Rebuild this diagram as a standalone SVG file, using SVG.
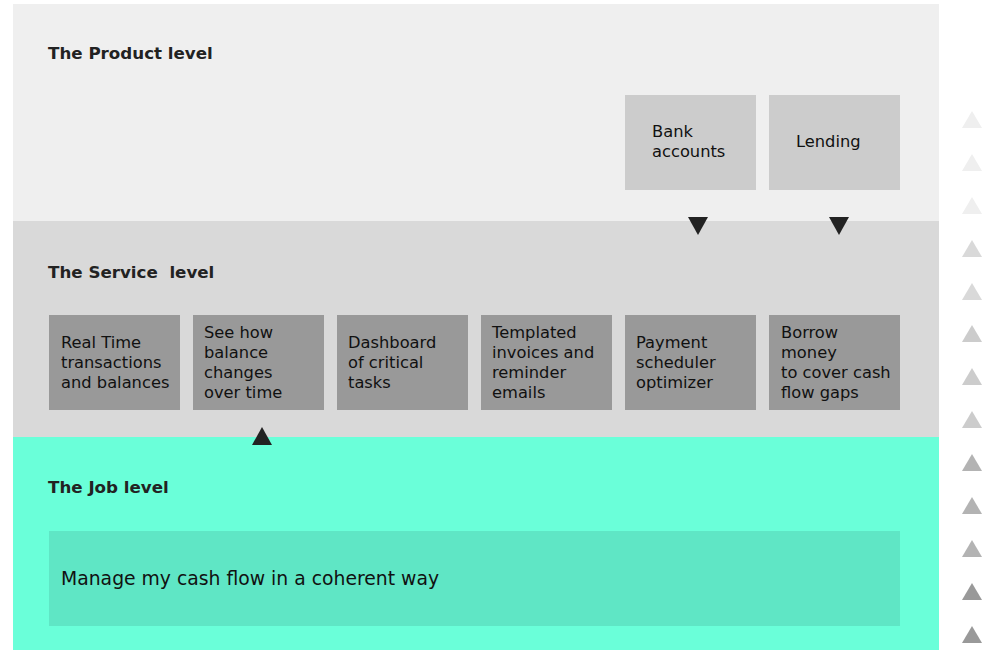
<svg xmlns="http://www.w3.org/2000/svg" width="994" height="650" viewBox="0 0 994 650">
<style>
.title{font-family:"DejaVu Sans",sans-serif;font-weight:bold;font-size:16.7px;fill:#222222}
.lbl{font-family:"DejaVu Sans",sans-serif;font-size:16.3px;fill:#111111}
.job{font-family:"DejaVu Sans",sans-serif;font-size:18.8px;fill:#111111}
.prod{fill:#cccccc}
.svc{fill:#999999}
.arr{fill:#222222}
</style>
<rect width="994" height="650" fill="#ffffff"/>
<g id="bands">
<rect x="13" y="4" width="926" height="217" fill="#efefef"/>
<rect x="13" y="221" width="926" height="216" fill="#d9d9d9"/>
<rect x="13" y="437" width="926" height="213" fill="#6affd9"/>
<text class="title" x="48" y="59">The Product level</text>
<text class="title" x="48" y="278" xml:space="preserve">The Service  level</text>
<text class="title" x="48" y="493">The Job level</text>
</g>
<g id="node-bank">
<rect class="prod" x="625" y="95" width="131" height="95"/>
<text class="lbl" x="652"><tspan x="652" y="137">Bank</tspan><tspan x="652" y="157">accounts</tspan></text>
</g>
<g id="node-lending">
<rect class="prod" x="769" y="95" width="131" height="95"/>
<text class="lbl" x="796" y="147">Lending</text>
</g>
<g id="node-realtime">
<rect class="svc" x="49" y="315" width="131" height="95"/>
<text class="lbl"><tspan x="61" y="348">Real Time</tspan><tspan x="61" y="368">transactions</tspan><tspan x="61" y="388">and balances</tspan></text>
</g>
<g id="node-balance">
<rect class="svc" x="193" y="315" width="131" height="95"/>
<text class="lbl"><tspan x="204" y="338">See how</tspan><tspan x="204" y="358">balance</tspan><tspan x="204" y="378">changes</tspan><tspan x="204" y="398">over time</tspan></text>
</g>
<g id="node-dashboard">
<rect class="svc" x="337" y="315" width="131" height="95"/>
<text class="lbl"><tspan x="348" y="348">Dashboard</tspan><tspan x="348" y="368">of critical</tspan><tspan x="348" y="388">tasks</tspan></text>
</g>
<g id="node-invoices">
<rect class="svc" x="481" y="315" width="131" height="95"/>
<text class="lbl"><tspan x="492" y="338">Templated</tspan><tspan x="492" y="358">invoices and</tspan><tspan x="492" y="378">reminder</tspan><tspan x="492" y="398">emails</tspan></text>
</g>
<g id="node-payment">
<rect class="svc" x="625" y="315" width="131" height="95"/>
<text class="lbl"><tspan x="636" y="348">Payment</tspan><tspan x="636" y="368">scheduler</tspan><tspan x="636" y="388">optimizer</tspan></text>
</g>
<g id="node-borrow">
<rect class="svc" x="769" y="315" width="131" height="95"/>
<text class="lbl"><tspan x="781" y="338">Borrow</tspan><tspan x="781" y="358">money</tspan><tspan x="781" y="378">to cover cash</tspan><tspan x="781" y="398">flow gaps</tspan></text>
</g>
<g id="node-job">
<rect x="49" y="531" width="851" height="95" fill="#5fe6c5"/>
<text class="job" x="61" y="585">Manage my cash flow in a coherent way</text>
</g>
<g id="connectors">
<polygon class="arr" points="688,217 708,217 698,235"/>
<polygon class="arr" points="829,217 849,217 839,235"/>
<polygon class="arr" points="252,445 272,445 262,427"/>
</g>
<g id="scale">
<polygon points="962,128 982,128 972,111" fill="#efefef"/>
<polygon points="962,171 982,171 972,154" fill="#efefef"/>
<polygon points="962,214 982,214 972,197" fill="#efefef"/>
<polygon points="962,257 982,257 972,240" fill="#d9d9d9"/>
<polygon points="962,300 982,300 972,283" fill="#d9d9d9"/>
<polygon points="962,342 982,342 972,325" fill="#cccccc"/>
<polygon points="962,385 982,385 972,368" fill="#cccccc"/>
<polygon points="962,428 982,428 972,411" fill="#cccccc"/>
<polygon points="962,471 982,471 972,454" fill="#b3b3b3"/>
<polygon points="962,514 982,514 972,497" fill="#b3b3b3"/>
<polygon points="962,557 982,557 972,540" fill="#b3b3b3"/>
<polygon points="962,600 982,600 972,583" fill="#999999"/>
<polygon points="962,643 982,643 972,626" fill="#999999"/>
</g>
</svg>
